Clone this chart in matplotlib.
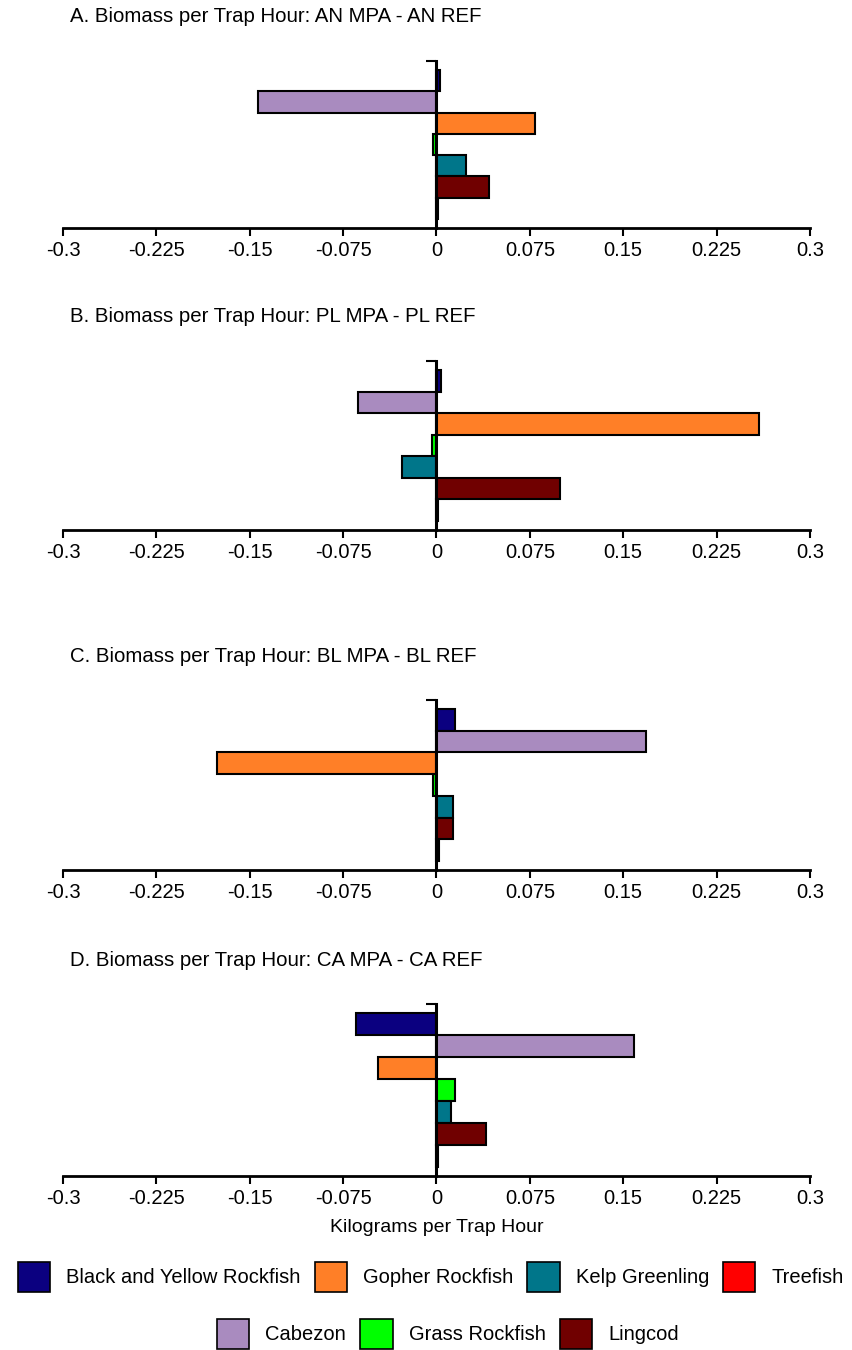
import numpy as np
import matplotlib.pyplot as plt
from matplotlib.patches import Patch

plt.rcParams['font.family'] = ['Liberation Sans', 'DejaVu Sans']

# species, in bar order (top to bottom)
species = ['Black and Yellow Rockfish', 'Cabezon', 'Gopher Rockfish', 'Grass Rockfish',
           'Kelp Greenling', 'Lingcod', 'Treefish']
colors = ['#0b0080', '#a98bbf', '#ff7f27', '#00ff00', '#00768a', '#700000', '#ff0000']

titles = ['A. Biomass per Trap Hour: AN MPA - AN REF',
          'B. Biomass per Trap Hour: PL MPA - PL REF',
          'C. Biomass per Trap Hour: BL MPA - BL REF',
          'D. Biomass per Trap Hour: CA MPA - CA REF']

# differences (kg per trap hour), MPA - REF
an_vals = [0.003, -0.143, 0.079, -0.003, 0.024, 0.042, 0.001]
pl_vals = [0.004, -0.063, 0.259, -0.004, -0.028, 0.099, 0.001]
bl_vals = [0.015, 0.168, -0.176, -0.003, 0.013, 0.013, 0.002]
ca_vals = [-0.065, 0.159, -0.047, 0.015, 0.012, 0.040, 0.001]
panels = [an_vals, pl_vals, bl_vals, ca_vals]

xticks = [-0.3, -0.225, -0.15, -0.075, 0, 0.075, 0.15, 0.225, 0.3]
xticklabels = ['-0.3', '-0.225', '-0.15', '-0.075', '0', '0.075', '0.15', '0.225', '0.3']

fig = plt.figure(figsize=(8.53, 13.5), dpi=100)

# axes boxes: (top pixel, bottom pixel)
boxes = [(61, 228), (361, 530), (700, 870), (1004, 1176)]
left = 63 / 853
width = 747 / 853

y = np.arange(len(species))
for (top, bot), title, vals in zip(boxes, titles, panels):
    h = bot - top
    ax = fig.add_axes([left, 1 - bot / 1350, width, h / 1350])
    ax.barh(y, vals, height=1.0, color=colors, edgecolor='black', linewidth=1.5)
    ax.set_xlim(-0.3, 0.3)
    ax.set_ylim(6.92, -0.92)
    ax.spines['top'].set_visible(False)
    ax.spines['right'].set_visible(False)
    ax.spines['left'].set_position(('data', 0))
    ax.spines['left'].set_linewidth(2.2)
    ax.spines['bottom'].set_linewidth(2)
    ax.set_yticks([-0.92])
    ax.set_yticklabels([''])
    ax.tick_params(axis='y', length=7, width=1.5)
    ax.set_xticks(xticks)
    ax.set_xticklabels(xticklabels, fontsize=14.5)
    ax.tick_params(axis='x', length=6, width=1.5, pad=3)
    ax.text(7 / 747, (h + 44) / h, title, transform=ax.transAxes,
            fontsize=14.7, ha='left', va='center')
    if title.startswith('D'):
        ax.set_xlabel('Kilograms per Trap Hour', fontsize=14, labelpad=8)

handles = [Patch(facecolor=c, edgecolor='black', linewidth=1.2) for c in colors]
row1 = [0, 2, 4, 6]
row2 = [1, 3, 5]
leg_kw = dict(frameon=False, fontsize=14.5, handlelength=1.6, handleheight=1.9,
              handletextpad=0.8, columnspacing=0.7, loc='center')
fig.legend([handles[i] for i in row1], [species[i] for i in row1], ncol=4,
           bbox_to_anchor=(0.505, 1 - 1277 / 1350), **leg_kw)
fig.legend([handles[i] for i in row2], [species[i] for i in row2], ncol=3,
           bbox_to_anchor=(0.525, 1 - 1334 / 1350), **leg_kw)

fig.savefig('out.png', dpi=100)
